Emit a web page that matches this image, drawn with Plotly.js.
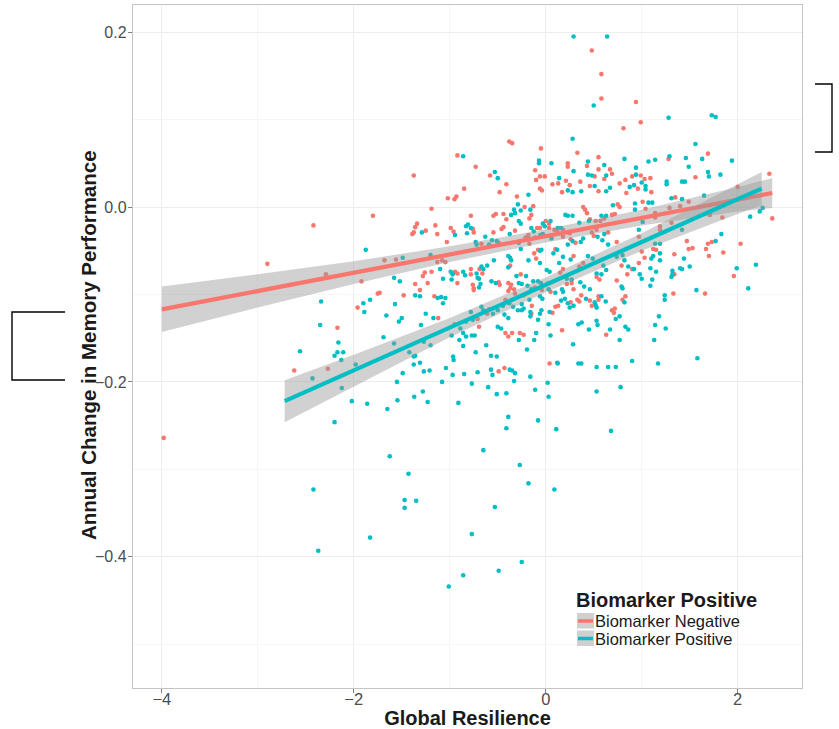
<!DOCTYPE html>
<html>
<head>
<meta charset="utf-8">
<script src="https://cdn.plot.ly/plotly-3.0.1.min.js"></script>
<style>
  html, body { margin: 0; padding: 0; background: #ffffff; }
  #chart { width: 839px; height: 729px; }
</style>
</head>
<body>
<div id="chart"></div>
<script>
// Biomarker negative participants: global resilience vs annual memory change
const negX = [-3.98,-2.90,-2.62,-2.42,-2.29,-2.27,-2.17,-1.96,-1.92,-1.80,-1.75,-1.73,-1.68,-1.56,-1.48,-1.375,-1.34,-1.36,-1.39,-1.375,-1.36,-1.31,-1.25,-1.19,-1.19,-1.26,-1.28,-1.23,-1.16,-1.15,-1.13,-1.13,-1.12,-1.08,-1.045,-1.03,-1.02,-0.99,-0.96,-0.95,-0.945,-0.93,-0.95,-0.92,-0.92,-0.92,-0.85,-0.78,-0.78,-0.78,-0.76,-0.75,-0.75,-0.75,-0.76,-0.73,-0.71,-0.695,-0.69,-0.67,-0.66,-0.61,-0.59,-0.58,-0.545,-0.52,-0.545,-0.49,-0.49,-0.48,-0.48,-0.49,-0.46,-0.44,-0.44,-0.43,-0.42,-0.42,-0.41,-0.41,-0.39,-0.37,-0.36,-0.39,-0.39,-0.38,-0.35,-0.37,-0.35,-0.33,-0.32,-0.32,-0.30,-0.27,-0.26,-0.23,-0.23,-0.22,-0.21,-0.18,-0.17,-0.17,-0.15,-0.15,-0.145,-0.13,-0.12,-0.115,-0.11,-0.10,-0.10,-0.09,-0.08,-0.06,-0.06,-0.06,-0.05,-0.04,-0.04,-0.01,0.0,0.035,0.035,0.04,0.05,0.07,0.07,0.09,0.10,0.10,0.12,0.13,0.13,0.15,0.17,0.17,0.18,0.18,0.18,0.21,0.22,0.23,0.23,0.23,0.25,0.25,0.26,0.26,0.27,0.29,0.29,0.31,0.33,0.33,0.35,0.35,0.36,0.37,0.39,0.39,0.41,0.43,0.43,0.46,0.46,0.46,0.48,0.48,0.48,0.50,0.51,0.52,0.53,0.53,0.55,0.55,0.55,0.55,0.55,0.56,0.57,0.58,0.58,0.61,0.61,0.63,0.65,0.67,0.69,0.69,0.69,0.71,0.72,0.72,0.74,0.74,0.75,0.77,0.77,0.79,0.80,0.81,0.83,0.83,0.84,0.85,0.90,0.90,0.94,0.96,0.97,0.97,0.99,0.99,1.0,1.01,1.03,1.03,1.04,1.09,1.10,1.12,1.14,1.14,1.15,1.19,1.19,1.28,1.29,1.31,1.33,1.34,1.34,1.35,1.40,1.47,1.49,1.49,1.53,1.56,1.66,1.67,1.69,1.69,1.70,1.71,1.73,1.84,1.85,1.96,2.0,2.03,2.33,2.36];
const negY = [-0.264,-0.065,-0.187,-0.021,-0.077,-0.185,-0.138,-0.115,-0.085,-0.010,-0.099,-0.098,-0.061,-0.060,-0.101,0.036,-0.019,-0.023,-0.031,-0.029,-0.088,-0.095,-0.027,-0.002,-0.074,-0.075,-0.079,-0.087,-0.102,-0.021,-0.031,-0.063,-0.127,-0.061,-0.063,-0.040,0.010,-0.024,-0.028,-0.134,-0.074,0.012,0.009,0.059,-0.076,-0.087,0.021,-0.010,-0.071,-0.077,-0.025,-0.029,-0.093,-0.095,-0.089,0.046,-0.128,-0.137,-0.071,-0.042,-0.076,-0.122,-0.117,0.036,-0.010,-0.008,-0.029,-0.041,-0.086,-0.089,0.017,-0.188,-0.025,-0.023,-0.008,-0.184,-0.106,-0.144,0.026,-0.014,-0.087,-0.093,-0.089,-0.096,-0.148,0.075,0.073,-0.067,-0.144,-0.094,-0.099,-0.027,0.012,-0.144,-0.077,-0.146,-0.101,0.000,-0.035,-0.032,-0.042,-0.013,-0.009,-0.122,-0.113,0.001,-0.053,-0.092,0.042,0.031,-0.059,-0.024,-0.049,-0.024,0.035,0.021,0.067,0.019,-0.095,0.035,-0.016,-0.019,-0.024,-0.179,-0.097,0.026,-0.121,-0.026,-0.048,-0.114,-0.028,0.027,-0.113,-0.075,0.017,-0.141,-0.026,-0.034,-0.071,0.030,-0.088,0.050,0.046,-0.029,-0.030,0.025,-0.037,-0.109,-0.087,-0.056,-0.094,-0.041,0.062,-0.106,-0.068,-0.108,0.029,-0.101,0.000,-0.064,-0.003,-0.007,0.047,0.024,-0.014,-0.107,0.179,-0.029,-0.113,-0.033,0.035,-0.016,-0.026,-0.080,0.057,0.043,0.018,-0.106,-0.102,-0.083,-0.016,0.152,0.124,-0.013,0.032,-0.146,-0.029,0.043,0.038,-0.009,-0.118,-0.121,-0.008,-0.116,-0.040,-0.084,0.003,0.000,0.027,-0.067,-0.106,0.090,0.031,-0.102,0.016,-0.077,0.035,-0.071,0.120,0.021,-0.034,-0.064,0.097,0.036,-0.051,0.006,0.032,-0.058,-0.002,0.033,0.017,-0.048,-0.007,-0.012,-0.049,-0.022,-0.026,0.055,-0.001,-0.018,-0.099,-0.054,-0.077,0.011,0.001,-0.039,0.006,-0.048,-0.047,0.034,-0.099,-0.048,0.061,-0.042,-0.056,-0.009,-0.040,-0.012,-0.052,-0.079,0.023,-0.042,0.038,-0.013];

// Biomarker positive participants
const posX = [-2.56,-2.43,-2.42,-2.37,-2.35,-2.34,-2.20,-2.20,-2.17,-2.16,-2.13,-2.125,-2.11,-2.02,-1.98,-1.90,-1.89,-1.875,-1.86,-1.83,-1.83,-1.69,-1.66,-1.65,-1.625,-1.58,-1.58,-1.57,-1.55,-1.545,-1.53,-1.52,-1.50,-1.49,-1.49,-1.47,-1.47,-1.43,-1.42,-1.375,-1.37,-1.36,-1.36,-1.375,-1.35,-1.31,-1.31,-1.30,-1.29,-1.28,-1.27,-1.27,-1.25,-1.23,-1.21,-1.20,-1.20,-1.17,-1.125,-1.10,-1.09,-1.08,-1.07,-1.07,-1.045,-1.04,-1.01,-0.99,-0.98,-0.98,-0.97,-0.97,-0.965,-0.96,-0.945,-0.91,-0.90,-0.89,-0.86,-0.86,-0.86,-0.86,-0.86,-0.85,-0.84,-0.83,-0.83,-0.83,-0.82,-0.81,-0.78,-0.78,-0.77,-0.77,-0.77,-0.76,-0.74,-0.73,-0.73,-0.72,-0.72,-0.71,-0.71,-0.695,-0.695,-0.68,-0.67,-0.67,-0.65,-0.65,-0.65,-0.63,-0.62,-0.61,-0.60,-0.59,-0.57,-0.57,-0.565,-0.56,-0.555,-0.55,-0.54,-0.53,-0.53,-0.52,-0.51,-0.51,-0.51,-0.50,-0.50,-0.50,-0.49,-0.465,-0.445,-0.43,-0.41,-0.41,-0.39,-0.39,-0.39,-0.39,-0.38,-0.375,-0.375,-0.37,-0.36,-0.36,-0.35,-0.34,-0.33,-0.33,-0.32,-0.32,-0.305,-0.29,-0.29,-0.28,-0.28,-0.28,-0.28,-0.27,-0.26,-0.26,-0.26,-0.25,-0.25,-0.25,-0.25,-0.23,-0.205,-0.195,-0.19,-0.18,-0.18,-0.18,-0.18,-0.17,-0.16,-0.16,-0.16,-0.16,-0.15,-0.15,-0.13,-0.125,-0.12,-0.11,-0.11,-0.10,-0.08,-0.08,-0.08,-0.07,-0.07,-0.06,-0.06,-0.06,-0.06,-0.055,-0.05,-0.045,-0.045,-0.035,-0.03,-0.03,-0.01,0.01,0.02,0.03,0.03,0.03,0.03,0.04,0.04,0.05,0.05,0.06,0.06,0.08,0.09,0.10,0.11,0.12,0.12,0.125,0.125,0.14,0.14,0.16,0.16,0.17,0.18,0.18,0.20,0.205,0.22,0.23,0.23,0.23,0.23,0.25,0.26,0.27,0.28,0.28,0.28,0.28,0.285,0.29,0.29,0.29,0.34,0.34,0.35,0.36,0.365,0.37,0.37,0.375,0.39,0.40,0.42,0.44,0.44,0.44,0.45,0.45,0.46,0.48,0.49,0.50,0.51,0.51,0.52,0.53,0.53,0.53,0.53,0.53,0.54,0.54,0.58,0.58,0.58,0.59,0.60,0.61,0.61,0.625,0.63,0.63,0.63,0.63,0.64,0.65,0.65,0.67,0.67,0.68,0.70,0.73,0.73,0.74,0.77,0.77,0.78,0.79,0.80,0.80,0.82,0.82,0.82,0.83,0.86,0.86,0.875,0.90,0.92,0.92,0.93,0.93,0.94,0.94,0.97,0.98,1.0,1.0,1.01,1.04,1.04,1.07,1.07,1.09,1.09,1.10,1.11,1.11,1.12,1.13,1.14,1.14,1.14,1.15,1.17,1.18,1.19,1.19,1.19,1.24,1.24,1.25,1.26,1.26,1.28,1.29,1.31,1.31,1.32,1.32,1.40,1.42,1.42,1.42,1.42,1.44,1.45,1.46,1.49,1.50,1.56,1.57,1.58,1.63,1.65,1.69,1.70,1.73,1.77,1.77,1.82,1.83,1.94,1.99,2.11,2.13,2.19,2.23,2.26];
const posY = [-0.165,-0.196,-0.323,-0.393,-0.135,-0.108,-0.246,-0.170,-0.166,-0.155,-0.175,-0.207,-0.166,-0.222,-0.180,-0.110,-0.120,-0.049,-0.225,-0.106,-0.378,-0.149,-0.124,-0.231,-0.285,-0.081,-0.156,-0.111,-0.200,-0.221,-0.131,-0.085,-0.127,-0.058,-0.190,-0.335,-0.344,-0.305,-0.166,-0.180,-0.217,-0.101,-0.170,-0.171,-0.336,-0.102,-0.178,-0.135,-0.029,-0.211,-0.154,-0.188,-0.122,-0.223,-0.187,-0.055,-0.158,-0.127,-0.104,-0.071,-0.103,-0.200,-0.082,-0.110,-0.104,-0.184,-0.434,-0.074,-0.083,-0.147,-0.077,-0.192,-0.171,-0.175,-0.032,-0.224,-0.152,-0.139,0.058,-0.074,-0.144,-0.159,-0.421,-0.191,-0.078,-0.022,-0.131,-0.148,-0.030,-0.020,-0.024,-0.120,-0.202,-0.147,-0.374,-0.129,-0.147,-0.040,-0.166,-0.043,-0.076,-0.081,-0.189,-0.082,-0.092,-0.088,-0.068,-0.114,-0.071,-0.118,-0.278,-0.034,-0.158,-0.067,-0.206,-0.043,-0.170,-0.186,-0.085,-0.038,-0.192,-0.122,-0.061,0.040,-0.343,-0.087,-0.039,-0.171,-0.214,0.033,-0.118,-0.137,-0.416,-0.139,-0.113,-0.123,-0.213,-0.253,-0.056,-0.069,-0.127,-0.240,-0.110,-0.031,-0.186,-0.058,-0.009,-0.061,-0.187,-0.114,-0.003,-0.199,-0.007,-0.190,-0.079,0.003,-0.118,-0.016,-0.041,-0.087,-0.152,-0.295,-0.019,-0.048,-0.004,-0.088,-0.111,-0.118,-0.406,-0.116,-0.079,-0.163,-0.090,0.014,-0.037,-0.061,-0.316,-0.106,-0.003,-0.120,-0.125,-0.194,-0.024,-0.094,-0.085,-0.028,-0.152,-0.035,-0.209,-0.144,-0.085,-0.129,-0.244,0.053,0.050,-0.050,-0.064,-0.102,-0.122,-0.032,-0.087,-0.049,-0.118,-0.105,-0.031,-0.019,-0.022,-0.072,-0.201,-0.087,-0.094,-0.134,-0.217,-0.074,-0.120,-0.016,-0.147,0.050,-0.036,-0.053,-0.323,-0.098,-0.254,-0.049,-0.178,-0.024,-0.179,0.033,-0.064,-0.024,-0.107,-0.094,-0.057,-0.097,-0.105,-0.009,-0.082,-0.010,-0.043,-0.110,0.019,-0.115,-0.060,-0.083,0.078,0.017,-0.010,-0.039,-0.157,0.195,0.041,-0.113,-0.134,-0.179,-0.018,-0.086,-0.040,0.018,-0.179,-0.132,-0.036,-0.091,-0.105,0.052,0.037,-0.056,-0.016,-0.140,-0.094,0.036,-0.059,0.116,0.024,-0.109,-0.112,-0.076,-0.115,-0.130,-0.183,-0.211,-0.034,-0.135,-0.010,-0.077,-0.102,-0.038,-0.067,0.048,-0.031,-0.108,0.036,0.018,-0.010,-0.072,0.195,-0.043,-0.183,0.022,-0.140,-0.256,0.002,-0.128,-0.183,-0.057,-0.125,-0.152,-0.206,-0.091,-0.055,-0.093,0.055,-0.061,-0.109,-0.137,-0.068,-0.140,0.023,-0.176,0.025,-0.071,0.004,-0.003,0.045,0.037,-0.026,-0.077,0.028,-0.082,-0.017,0.024,0.020,0.052,0.005,-0.070,-0.090,-0.059,0.005,-0.083,-0.056,-0.152,0.054,-0.042,-0.135,-0.074,-0.179,-0.125,-0.042,-0.053,-0.061,-0.101,-0.106,-0.139,0.029,0.026,0.102,0.058,0.010,-0.080,-0.073,-0.077,-0.070,0.029,0.009,-0.026,-0.071,-0.059,0.029,0.056,0.046,-0.068,0.072,-0.095,-0.173,0.055,0.013,0.040,0.035,0.105,0.103,-0.039,0.037,-0.031,0.053,-0.070,-0.093,-0.011,-0.066,-0.005,-0.001];

// Linear fits with 95% confidence bands (fit, lower, upper) at the knots
const negFitX  = [-4.00, -3.00, -2.00, -1.00, 0.00, 1.00, 2.00, 2.36];
const negFit   = [-0.117, -0.096, -0.075, -0.054, -0.033, -0.012, 0.009, 0.016];
const negLower = [-0.143, -0.115, -0.088, -0.063, -0.0405, -0.021, -0.005, -0.001];
const negUpper = [-0.091, -0.077, -0.062, -0.045, -0.0255, -0.003, 0.023, 0.033];

const posFitX  = [-2.72, -2.00, -1.00, 0.00, 1.00, 2.00, 2.25];
const posFit   = [-0.222, -0.187, -0.138, -0.089, -0.040, 0.009, 0.021];
const posLower = [-0.246, -0.205, -0.149, -0.0975, -0.050, -0.008, 0.002];
const posUpper = [-0.198, -0.169, -0.127, -0.0805, -0.030, 0.026, 0.040];

const RED = '#F8766D';
const TEAL = '#00BFC4';
const BAND = 'rgba(153,153,153,0.45)';

function bandTrace(x, lo, hi) {
  return {
    x: x.concat(x.slice().reverse()),
    y: hi.concat(lo.slice().reverse()),
    type: 'scatter', mode: 'lines', fill: 'toself',
    fillcolor: BAND, line: {width: 0, color: 'rgba(0,0,0,0)'},
    hoverinfo: 'skip', showlegend: false
  };
}

const traces = [
  {x: negX, y: negY, type: 'scatter', mode: 'markers',
   marker: {color: RED, size: 4.6}, showlegend: false},
  {x: posX, y: posY, type: 'scatter', mode: 'markers',
   marker: {color: TEAL, size: 4.6}, showlegend: false},
  bandTrace(negFitX, negLower, negUpper),
  {x: negFitX, y: negFit, type: 'scatter', mode: 'lines',
   line: {color: RED, width: 4.2}, showlegend: false},
  bandTrace(posFitX, posLower, posUpper),
  {x: posFitX, y: posFit, type: 'scatter', mode: 'lines',
   line: {color: TEAL, width: 4.2}, showlegend: false}
];

// page geometry helpers (pixels -> paper fractions)
const W = 839, H = 729, ML = 133, MR = 37, MT = 5, MB = 41;
const PW = W - ML - MR, PH = H - MT - MB;
const px = v => (v - ML) / PW;
const py = v => (H - MB - v) / PH;

const FONT = 'Liberation Sans, Arial, sans-serif';

const shapes = [
  // side brackets
  {type: 'path', xref: 'paper', yref: 'paper',
   path: `M ${px(65)} ${py(312)} L ${px(12)} ${py(312)} L ${px(12)} ${py(380)} L ${px(65)} ${py(380)}`,
   line: {color: '#000', width: 1.4}},
  {type: 'path', xref: 'paper', yref: 'paper',
   path: `M ${px(815)} ${py(84)} L ${px(832)} ${py(84)} L ${px(832)} ${py(152)} L ${px(815)} ${py(152)}`,
   line: {color: '#000', width: 1.4}},
  // legend keys
  {type: 'rect', xref: 'paper', yref: 'paper', x0: px(577), x1: px(594), y0: py(613), y1: py(628.5),
   fillcolor: '#d0d0d0', line: {width: 0}},
  {type: 'line', xref: 'paper', yref: 'paper', x0: px(578), x1: px(593), y0: py(621), y1: py(621),
   line: {color: RED, width: 3.5}},
  {type: 'rect', xref: 'paper', yref: 'paper', x0: px(577), x1: px(594), y0: py(630.5), y1: py(646),
   fillcolor: '#d0d0d0', line: {width: 0}},
  {type: 'line', xref: 'paper', yref: 'paper', x0: px(578), x1: px(593), y0: py(638.5), y1: py(638.5),
   line: {color: TEAL, width: 3.5}}
];

const annotations = [
  // y axis title, placed beside the tick labels
  {xref: 'paper', yref: 'paper', x: px(88), y: py(345), xanchor: 'center', yanchor: 'middle',
   textangle: -90, text: '<b>Annual Change in Memory Performance</b>', showarrow: false,
   font: {family: FONT, size: 20.5, color: '#1a1a1a'}},
  // legend
  {xref: 'paper', yref: 'paper', x: px(574), y: py(600), xanchor: 'left', yanchor: 'middle',
   text: '<b>Biomarker Positive</b>', showarrow: false, font: {family: FONT, size: 20, color: '#1a1a1a'}},
  {xref: 'paper', yref: 'paper', x: px(593), y: py(620.5), xanchor: 'left', yanchor: 'middle',
   text: 'Biomarker Negative', showarrow: false, font: {family: FONT, size: 16.5, color: '#1a1a1a'}},
  {xref: 'paper', yref: 'paper', x: px(593), y: py(638.5), xanchor: 'left', yanchor: 'middle',
   text: 'Biomarker Positive', showarrow: false, font: {family: FONT, size: 16.5, color: '#1a1a1a'}}
];

const layout = {
  width: W, height: H,
  margin: {l: ML, r: MR, t: MT, b: MB},
  paper_bgcolor: '#ffffff', plot_bgcolor: '#ffffff',
  font: {family: FONT, color: '#4d4d4d'},
  showlegend: false,
  xaxis: {
    range: [-4.30, 2.67], tickvals: [-4, -2, 0, 2], ticktext: ['\u22124', '\u22122', '0', '2'],
    ticks: 'outside', ticklen: 4, tickcolor: '#7f7f7f', tickwidth: 1, ticklabelstandoff: -8,
    tickfont: {size: 16.5, color: '#4d4d4d', family: FONT},
    showgrid: true, gridcolor: '#ededed', gridwidth: 1,
    minor: {tickvals: [-3, -1, 1], showgrid: true, gridcolor: '#f6f6f6', gridwidth: 1, ticks: ''},
    zeroline: false, showline: true, mirror: true, linecolor: '#c4c4c4', linewidth: 1.2,
    title: {text: '<b>Global Resilience</b>', font: {size: 20, color: '#1a1a1a', family: FONT}, standoff: 3}
  },
  yaxis: {
    range: [-0.55, 0.231], tickvals: [-0.4, -0.2, 0, 0.2], ticktext: ['\u22120.4', '\u22120.2', '0.0', '0.2'],
    ticks: 'outside', ticklen: 4, tickcolor: '#7f7f7f', tickwidth: 1, ticklabelstandoff: -2,
    tickfont: {size: 16, color: '#4d4d4d', family: FONT},
    showgrid: true, gridcolor: '#ededed', gridwidth: 1,
    minor: {tickvals: [-0.5, -0.3, -0.1, 0.1], showgrid: true, gridcolor: '#f6f6f6', gridwidth: 1, ticks: ''},
    zeroline: false, showline: true, mirror: true, linecolor: '#c4c4c4', linewidth: 1.2
  },
  shapes: shapes,
  annotations: annotations
};

Plotly.newPlot('chart', traces, layout, {staticPlot: true, displayModeBar: false});
</script>
</body>
</html>
